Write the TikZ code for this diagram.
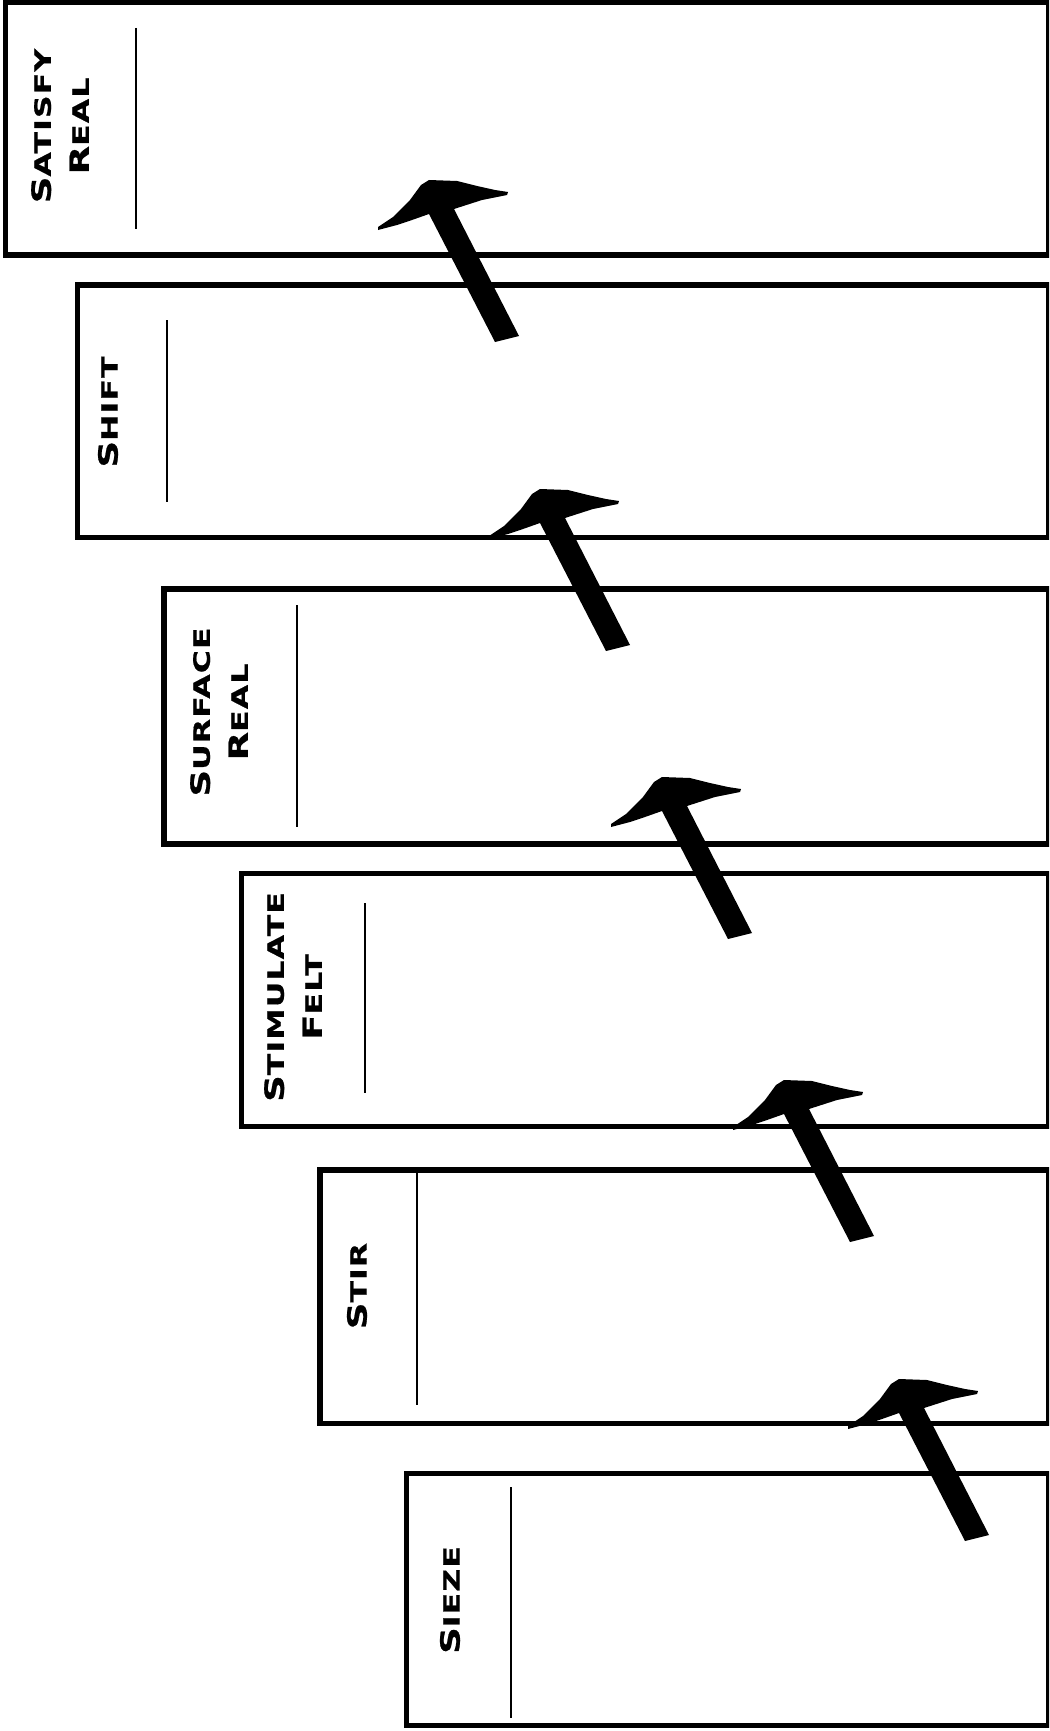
\documentclass[tikz,border=0pt]{standalone}
\usepackage{fontspec}
\newfontfamily\lab{DejaVu Sans}[FakeStretch=1.4, LetterSpace=5, BoldFeatures={FakeBold=0.8}]
\newcommand\scw[2]{{\fontsize{26.5}{38}\selectfont#1}{\fontsize{22.5}{38}\selectfont#2}}
\tikzset{
  box/.style={draw=black, line width=5.5pt},
  sepline/.style={draw=black, line width=2pt},
  lbl/.style={rotate=90, align=center, inner sep=0pt,
    font=\lab\bfseries\fontsize{22.5}{38}\selectfont},
  hammerarrow/.pic={
    \fill[black] (-12,4) -- (-78,-124) -- (-95,-118) -- (-110,-113) -- (-129,-108)
      -- (-129,-111) -- (-114,-121) -- (-97,-138) -- (-86,-153) -- (-78,-158)
      -- (-50,-157) -- (-30,-152) -- (-12,-148) -- (1,-146) -- (0,-143) -- (-25,-138)
      -- (-53,-129) -- (12,-2) -- cycle;
  }
}
\begin{document}
\begin{tikzpicture}[x=1pt, y=-1pt]
\useasboundingbox (0,0) rectangle (1049,1731);
\fill[white] (0,0) rectangle (1049,1731);
\clip (0,0) rectangle (1049,1731);
% boxes
\draw[box] (5.5,2.5)   rectangle (1049,255);
\draw[box] (77.5,285)  rectangle (1049,537.5);
\draw[box] (164,589)   rectangle (1049,844);
\draw[box] (241.5,873.5) rectangle (1049,1126.5);
\draw[box] (320,1170)  rectangle (1049,1423.5);
\draw[box] (406.5,1473.5) rectangle (1049,1725.5);
% separator lines
\draw[sepline] (136,28) -- (136,229);
\draw[sepline] (167,320) -- (167,502);
\draw[sepline] (297,605) -- (297,827);
\draw[sepline] (365,903) -- (365,1093);
\draw[sepline] (417,1170) -- (417,1405);
\draw[sepline] (511,1487) -- (511,1718);
% labels
\node[lbl] (l1) at (60,126)  {\scw{S}{ATISFY}\\\scw{R}{EAL}};
\node[lbl] (l2) at (108,412) {\scw{S}{HIFT}};
\node[lbl] (l3) at (219,712) {\scw{S}{URFACE}\\\scw{R}{EAL}};
\node[lbl] (l4) at (293,997) {\scw{S}{TIMULATE}\\\scw{F}{ELT}};
\node[lbl] (l5) at (357,1286) {\scw{S}{TIR}};
\node[lbl] (l6) at (450,1600) {\scw{S}{IEZE}};
% arrows
\pic (a1) at (507,338) {hammerarrow};
\pic (a2) at (618,647) {hammerarrow};
\pic (a3) at (740,935) {hammerarrow};
\pic (a4) at (862,1238) {hammerarrow};
\pic (a5) at (977,1537) {hammerarrow};
\end{tikzpicture}
\end{document}
